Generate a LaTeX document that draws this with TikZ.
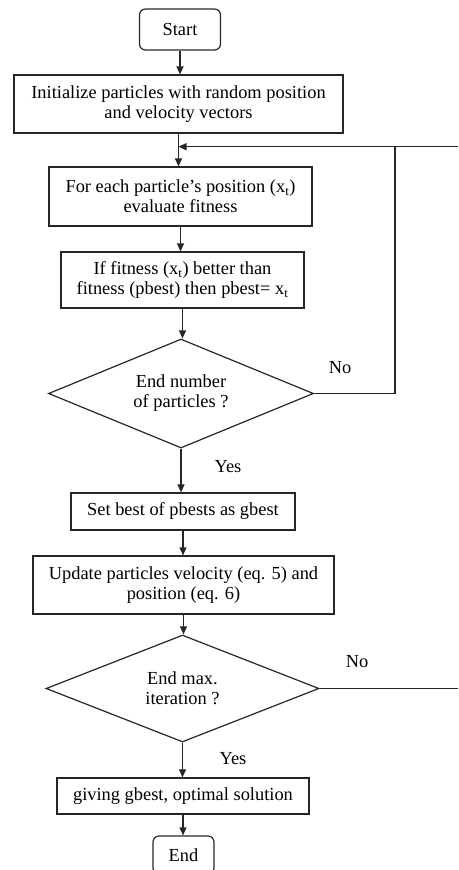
\documentclass[tikz,border=0pt]{standalone}
\usepackage{fontspec}
\setmainfont{Liberation Serif}
\usepackage{tikz}
\usetikzlibrary{arrows.meta, shapes.geometric}

\begin{document}
\begin{tikzpicture}[x=1pt, y=-1pt, >={Triangle[length=8pt,width=7pt]},
    font=\fontsize{18.4}{20}\selectfont,
    line/.style={draw=black!85, line width=1.2pt},
    box/.style={draw=black!85, line width=1.2pt, rectangle, align=center, inner sep=0pt},
    term/.style={box, rounded corners=6pt},
    decision/.style={draw=black!85, line width=1.2pt, diamond, aspect=2.45, align=center, inner sep=0pt}]
  \clip (0,0) rectangle (458,870);

  % Blöcke
  \node[term, minimum width=81pt, minimum height=41pt] (start) at (180,29.5) {Start};
  \node[box, minimum width=329pt, minimum height=58pt] (init) at (178.5,104)
    {Initialize particles with random position\\ and velocity vectors};
  \node[box, minimum width=263pt, minimum height=59pt] (eval) at (180.5,196.5)
    {For each particle's position (x\textsubscript{t})\\ evaluate fitness};
  \node[box, minimum width=243pt, minimum height=56pt] (pbest) at (182.5,280)
    {If fitness (x\textsubscript{t}) better than\\ fitness (pbest) then pbest= x\textsubscript{t}};
  \node[decision, minimum width=265pt, minimum height=109pt] (endp) at (181,393.5)
    {End number\\ of particles ?};
  \node[box, minimum width=224pt, minimum height=37pt] (gbest) at (183,511.5)
    {Set best of pbests as gbest};
  \node[box, minimum width=301pt, minimum height=58pt] (upd) at (183.5,585)
    {Update particles velocity (eq. 5) and\\ position (eq. 6)};
  \node[decision, minimum width=273pt, minimum height=107pt] (endit) at (182.5,688.5)
    {End max.\\ iteration ?};
  \node[box, minimum width=252pt, minimum height=36pt] (out) at (183,796)
    {giving gbest, optimal solution};
  \node[term, minimum width=61pt, minimum height=38pt] (stop) at (183.5,855) {End};

  % Beschriftungen
  \node (no1) at (340,368) {No};
  \node (yes1) at (228,467) {Yes};
  \node (no2) at (357,662) {No};
  \node (yes2) at (233,759) {Yes};

  % Rückführung
  \coordinate (rt1) at (458,146.7);
  \coordinate (up1) at (395,146.7);
  \coordinate (jn1) at (init.south |- rt1);
  \coordinate (rt2) at (458,688.5);

  % Pfeile
  \draw[line, ->] (start) -- (start |- init.north);
  \draw[line] (init) -- (jn1);
  \draw[line, ->] (jn1) -- (jn1 |- eval.north);
  \draw[line, ->] (eval) -- (eval |- pbest.north);
  \draw[line, ->] (pbest) -- (pbest |- endp.north);
  \draw[line, ->] (endp) -- (endp |- gbest.north);
  \draw[line, ->] (gbest) -- (gbest |- upd.north);
  \draw[line, ->] (upd) -- (upd |- endit.north);
  \draw[line, ->] (endit) -- (endit |- out.north);
  \draw[line, ->] (out) -- (out |- stop.north);
  \draw[line] (endp.east) -| (up1);
  \draw[line, ->] (rt1) -- (jn1);
  \draw[line] (endit.east) -- (rt2);
\end{tikzpicture}
\end{document}
